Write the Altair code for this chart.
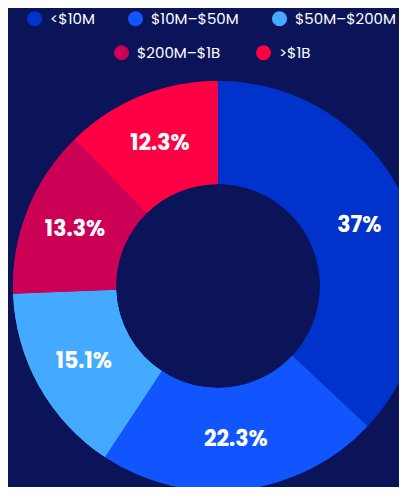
import altair as alt
import pandas as pd

categories = ["<$10M", "$10M–$50M", "$50M–$200M", "$200M–$1B", ">$1B"]
shares = [37.0, 22.3, 15.1, 13.3, 12.3]
labels = ["37%", "22.3%", "15.1%", "13.3%", "12.3%"]
colors = ["#0033CC", "#1155FF", "#44AAFF", "#CC0055", "#FF0044"]

df = pd.DataFrame({"cat": categories, "share": shares, "label": labels,
                   "order": list(range(len(categories)))})

base = alt.Chart(df).encode(
    theta=alt.Theta("share:Q", stack=True),
    order=alt.Order("order:Q"),
)

legend_common = dict(
    orient="none", direction="horizontal", title=None,
    labelColor="white", labelFont="Poppins", labelFontSize=15,
    symbolType="circle", symbolSize=225, symbolStrokeWidth=0,
    labelOffset=8,
)

arcs1 = base.mark_arc(outerRadius=205, innerRadius=102, stroke=None).encode(
    fill=alt.Fill("cat:N", sort=categories,
                  scale=alt.Scale(domain=categories, range=colors),
                  legend=alt.Legend(values=categories[:3], legendX=-10, legendY=-74,
                                    columnPadding=33, **legend_common)),
)
arcs2 = base.mark_arc(outerRadius=205, innerRadius=102, stroke=None).encode(
    fill=alt.Fill("cat:N", sort=categories,
                  scale=alt.Scale(domain=categories, range=colors),
                  legend=alt.Legend(values=categories[3:], legendX=77, legendY=-40,
                                    columnPadding=35, **legend_common)),
)
text = base.mark_text(radius=154, font="Poppins", fontWeight="bold",
                      fontSize=22, color="white").encode(text="label:N")

chart = alt.layer(arcs2, arcs1, text).resolve_scale(fill="independent").properties(
    width=362, height=402,
    padding={"left": 29, "top": 77, "right": 0, "bottom": 0},
    autosize=alt.AutoSizeParams(type="none"),
    background="#0B1459",
).configure_view(stroke=None)

chart.save("out.html", embed_options={"renderer": "svg", "actions": False})
